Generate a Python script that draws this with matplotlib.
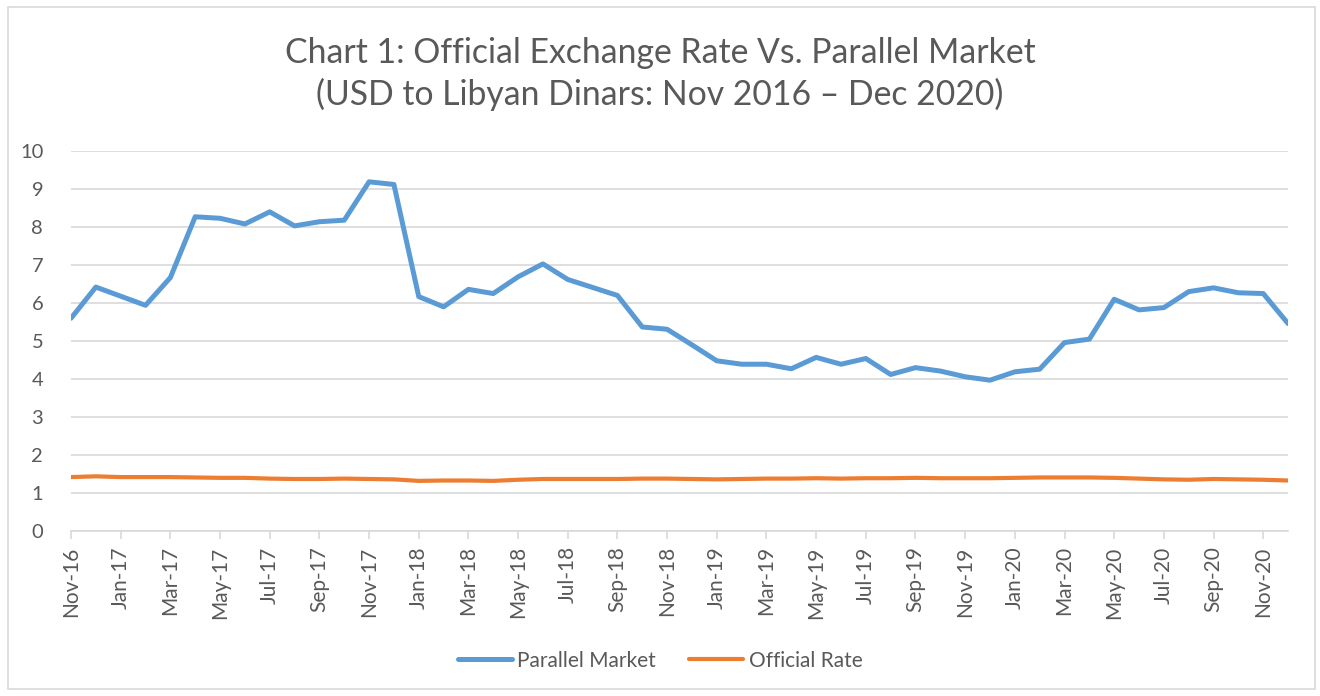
import pandas as pd
import matplotlib
matplotlib.use("Agg")
import matplotlib.pyplot as plt
from matplotlib.patches import Rectangle

# monthly observations, Nov 2016 - Dec 2020
months = pd.date_range("2016-11-01", "2020-12-01", freq="MS").strftime("%b-%y").tolist()

parallel_market = [
    5.60, 6.42, 6.18, 5.94, 6.67, 8.27, 8.23, 8.08, 8.40, 8.03, 8.14, 8.18,
    9.19, 9.12, 6.17, 5.90, 6.36, 6.25, 6.69, 7.03, 6.62, 6.41, 6.20, 5.37,
    5.31, 4.90, 4.48, 4.39, 4.39, 4.27, 4.57, 4.39, 4.54, 4.12, 4.30, 4.21,
    4.06, 3.97, 4.19, 4.26, 4.96, 5.05, 6.10, 5.82, 5.88, 6.30, 6.40, 6.27,
    6.25, 5.46,
]

official_rate = [
    1.42, 1.44, 1.42, 1.42, 1.42, 1.41, 1.40, 1.40, 1.38, 1.37, 1.37, 1.38,
    1.37, 1.36, 1.32, 1.33, 1.33, 1.32, 1.35, 1.37, 1.37, 1.37, 1.37, 1.38,
    1.38, 1.37, 1.36, 1.37, 1.38, 1.38, 1.39, 1.38, 1.39, 1.39, 1.40, 1.39,
    1.39, 1.39, 1.40, 1.41, 1.41, 1.41, 1.40, 1.38, 1.36, 1.35, 1.37, 1.36,
    1.35, 1.33,
]

series_names = ["Parallel Market", "Official Rate"]
y_ticks = list(range(0, 11))

title_text = "Chart 1: Official Exchange Rate Vs. Parallel Market\n(USD to Libyan Dinars: Nov 2016 \u2013 Dec 2020)"

text_color = "#595959"
grid_color = "#d9d9d9"
blue = "#5b9bd5"
orange = "#ed7d31"

plt.rcParams["font.family"] = ["Lato", "DejaVu Sans"]

fig = plt.figure(figsize=(13.2, 6.96), dpi=100)
fig.patches.append(Rectangle((0.006, 0.01), 0.99, 0.98, transform=fig.transFigure,
                             fill=False, edgecolor=grid_color, linewidth=1.2))

ax = fig.add_axes([0.0538, 0.237, 0.922, 0.546])

x = list(range(len(months)))
ax.plot(x, parallel_market, color=blue, linewidth=3.6, solid_joinstyle="round",
        solid_capstyle="round", label=series_names[0], zorder=3)
ax.plot(x, official_rate, color=orange, linewidth=3.0, solid_joinstyle="round",
        solid_capstyle="round", label=series_names[1], zorder=3)

ax.set_xlim(0, len(months) - 1)
ax.set_ylim(0, 10)
ax.set_yticks(y_ticks)
ax.set_yticklabels([str(v) for v in y_ticks])
ax.grid(axis="y", color=grid_color, linewidth=1.2)
ax.set_axisbelow(True)

ax.set_xticks(x[::2])
ax.set_xticklabels(months[::2], rotation=90)

for side in ["top", "right", "left"]:
    ax.spines[side].set_visible(False)
ax.spines["bottom"].set_color(grid_color)
ax.spines["bottom"].set_linewidth(1.2)

ax.tick_params(axis="y", length=0, pad=20, labelsize=14.5, labelcolor=text_color)
ax.tick_params(axis="x", length=6, width=1.2, color=grid_color, pad=5,
               labelsize=15, labelcolor=text_color)

fig.text(0.5, 0.894, title_text, ha="center", va="center", fontsize=24.3,
         color=text_color, linespacing=1.32)

fig.legend(loc="center", bbox_to_anchor=(0.5, 0.051), ncol=2, frameon=False,
           fontsize=15, labelcolor=text_color, handlelength=2.6, handletextpad=0.25,
           columnspacing=1.6)

fig.savefig("out.png", dpi=100)
